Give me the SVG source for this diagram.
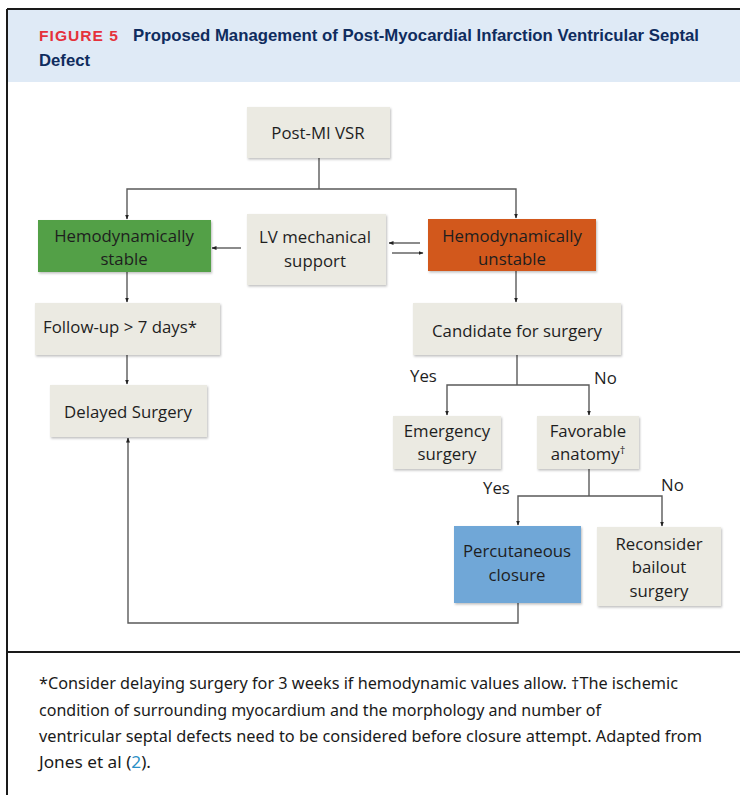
<svg xmlns="http://www.w3.org/2000/svg" width="740" height="795" viewBox="0 0 740 795">
<defs>
<marker id="ah" viewBox="0 0 10 10" refX="9" refY="5" markerWidth="5" markerHeight="5" orient="auto" markerUnits="userSpaceOnUse">
<path d="M0,1 L10,5 L0,9 z" fill="#222"/>
</marker>
<filter id="sh" x="-5%" y="-5%" width="115%" height="120%">
<feDropShadow dx="1" dy="1.5" stdDeviation="0.8" flood-color="#000" flood-opacity="0.25"/>
</filter>
</defs>
<style>
.box{fill:#ebeae2;filter:url(#sh)}
.t{font-family:"Open Sans","Noto Sans","Liberation Sans",sans-serif;font-size:16.8px;fill:#1e1e1e;text-anchor:middle}
.lbl{font-family:"Open Sans","Noto Sans","Liberation Sans",sans-serif;font-size:16.8px;fill:#1e1e1e}
.c{fill:none;stroke:#5a5a5a;stroke-width:1.4}
.a{marker-end:url(#ah)}
.foot{font-family:"Noto Sans","Open Sans","Liberation Sans",sans-serif;font-size:15.5px;fill:#1a1a1a}
</style>
<rect x="0" y="0" width="740" height="795" fill="#fff"/>
<!-- header -->
<rect x="7" y="9" width="740" height="73" fill="#dfeaf6"/>
<path d="M7,9 H740 M7,9 V795" stroke="#1a1a1a" stroke-width="2" fill="none"/>
<line x1="7" y1="652" x2="740" y2="652" stroke="#1a1a1a" stroke-width="2"/>
<text x="39" y="41" font-family="Liberation Sans,sans-serif" font-weight="bold" font-size="15.5" fill="#e5313b" textLength="80" lengthAdjust="spacingAndGlyphs" letter-spacing="1">FIGURE 5</text>
<text x="133" y="41" font-family="Liberation Sans,sans-serif" font-weight="bold" font-size="16.5" fill="#0f2c5e" textLength="566" lengthAdjust="spacingAndGlyphs">Proposed Management of Post-Myocardial Infarction Ventricular Septal</text>
<text x="39" y="66" font-family="Liberation Sans,sans-serif" font-weight="bold" font-size="16.5" fill="#0f2c5e" textLength="51" lengthAdjust="spacingAndGlyphs">Defect</text>

<!-- connectors -->
<g id="connectors">
<path class="c" d="M319,158 V189"/>
<path class="c a" d="M319,189 H127 V219"/>
<path class="c a" d="M319,189 H516 V218"/>
<path class="c a" d="M241,248 H212"/>
<path class="c a" d="M420,243 H389"/>
<path class="c a" d="M392,253 H423"/>
<path class="c a" d="M127,272 V302"/>
<path class="c a" d="M127,355 V384"/>
<path class="c a" d="M516,271 V302"/>
<path class="c" d="M517,355 V385"/>
<path class="c a" d="M517,385 H447 V415"/>
<path class="c a" d="M517,385 H589 V415"/>
<path class="c" d="M589,469 V496"/>
<path class="c a" d="M589,496 H518 V525"/>
<path class="c a" d="M589,496 H662 V526"/>
<path class="c a" d="M518,603 V623 H128 V438"/>
</g>
<text class="lbl" x="410" y="382">Yes</text>
<text class="lbl" x="594" y="384">No</text>
<text class="lbl" x="483" y="494">Yes</text>
<text class="lbl" x="661" y="491">No</text>

<g id="post-mi-vsr">
<rect class="box" x="247" y="107" width="143" height="51"/>
<text class="t" x="318" y="139">Post-MI VSR</text>
</g>
<g id="hemo-stable">
<rect x="38" y="220" width="173" height="52" fill="#52a046" filter="url(#sh)"/>
<text class="t" x="124" y="242">Hemodynamically</text>
<text class="t" x="124" y="265">stable</text>
</g>
<g id="lv-support">
<rect class="box" x="247" y="214" width="139" height="71"/>
<text class="t" x="315" y="243">LV mechanical</text>
<text class="t" x="315" y="267">support</text>
</g>
<g id="hemo-unstable">
<rect x="428" y="219" width="168" height="52" fill="#d2591f" filter="url(#sh)"/>
<text class="t" x="512" y="242">Hemodynamically</text>
<text class="t" x="512" y="265">unstable</text>
</g>
<g id="follow-up">
<rect class="box" x="35" y="303" width="185" height="52"/>
<text class="t" x="120" y="333">Follow-up &gt; 7 days*</text>
</g>
<g id="delayed-surgery">
<rect class="box" x="50" y="385" width="157" height="52"/>
<text class="t" x="128" y="418">Delayed Surgery</text>
</g>
<g id="candidate">
<rect class="box" x="413" y="303" width="208" height="52"/>
<text class="t" x="517" y="337">Candidate for surgery</text>
</g>
<g id="emergency">
<rect class="box" x="393" y="416" width="108" height="53"/>
<text class="t" x="447" y="437">Emergency</text>
<text class="t" x="447" y="460">surgery</text>
</g>
<g id="favorable">
<rect class="box" x="537" y="416" width="102" height="53"/>
<text class="t" x="588" y="437">Favorable</text>
<text class="t" x="588" y="460">anatomy<tspan font-size="11" dy="-6">†</tspan></text>
</g>
<g id="percutaneous">
<rect x="454" y="526" width="127" height="77" fill="#6fa7d7" filter="url(#sh)"/>
<text class="t" x="517" y="557">Percutaneous</text>
<text class="t" x="517" y="581">closure</text>
</g>
<g id="reconsider">
<rect class="box" x="597" y="527" width="124" height="79"/>
<text class="t" x="659" y="550">Reconsider</text>
<text class="t" x="659" y="573">bailout</text>
<text class="t" x="659" y="597">surgery</text>
</g>

<!-- footnote -->
<text class="foot" x="39" y="689" textLength="639" lengthAdjust="spacingAndGlyphs">*Consider delaying surgery for 3 weeks if hemodynamic values allow. †The ischemic</text>
<text class="foot" x="39" y="716" textLength="562" lengthAdjust="spacingAndGlyphs">condition of surrounding myocardium and the morphology and number of</text>
<text class="foot" x="39" y="742" textLength="663" lengthAdjust="spacingAndGlyphs">ventricular septal defects need to be considered before closure attempt. Adapted from</text>
<text class="foot" x="39" y="768" textLength="112" lengthAdjust="spacingAndGlyphs">Jones et al (<tspan fill="#2a8fc6">2</tspan>).</text>
</svg>
